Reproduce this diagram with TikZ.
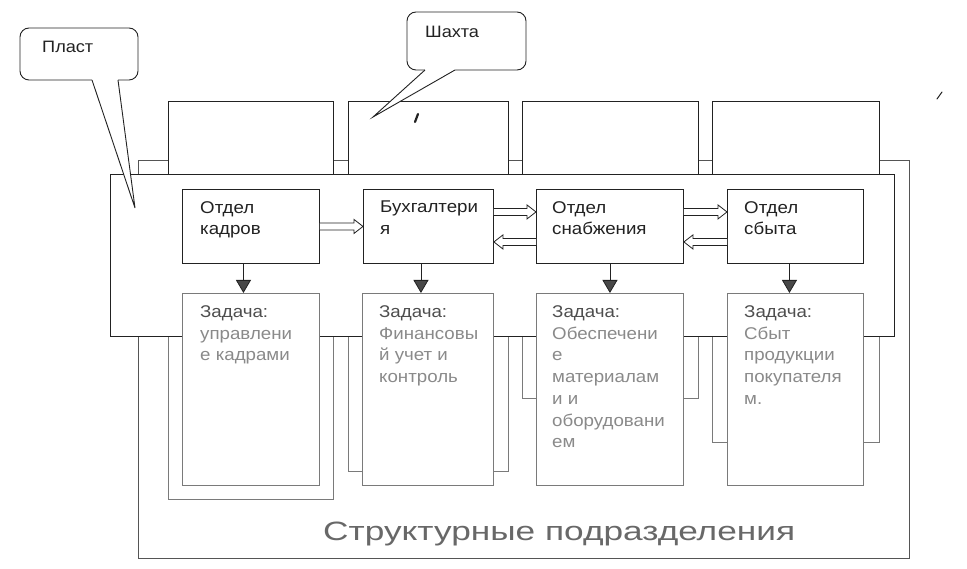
\documentclass[tikz,border=0pt]{standalone}
\usepackage{fontspec}
\setmainfont{Liberation Sans}[FakeStretch=1.1]
\usepackage{graphicx}
\usetikzlibrary{arrows.meta,calc}
\definecolor{ink}{HTML}{222222}
\definecolor{outerc}{HTML}{555555}
\definecolor{lite}{HTML}{7A7A7A}
\definecolor{tasktxt}{HTML}{8A8A8A}
\definecolor{tasklbl}{HTML}{4E4E4E}
\definecolor{bigtxt}{HTML}{686868}
\definecolor{tipgray}{HTML}{484848}
\newcommand\rarr[2]{\draw[blk] ([yshift=3.5pt]#1) -- ([shift={(-9pt,3.5pt)}]#2) -- ([shift={(-9pt,7pt)}]#2) -- (#2) -- ([shift={(-9pt,-7pt)}]#2) -- ([shift={(-9pt,-3.5pt)}]#2) -- ([yshift=-3.5pt]#1);}
\newcommand\larr[2]{\draw[blk] ([yshift=3.5pt]#1) -- ([shift={(9pt,3.5pt)}]#2) -- ([shift={(9pt,7pt)}]#2) -- (#2) -- ([shift={(9pt,-7pt)}]#2) -- ([shift={(9pt,-3.5pt)}]#2) -- ([yshift=-3.5pt]#1);}
\begin{document}
\begin{tikzpicture}[x=1pt,y=-1pt,line join=miter,
  boxline/.style={draw=ink,line width=0.9pt,fill=white},
  liteline/.style={draw=lite,line width=0.8pt,fill=white},
  deptbox/.style={boxline,minimum width=#1,minimum height=74pt,inner sep=0pt,anchor=north west},
  taskbox/.style={draw=lite,line width=0.8pt,fill=white,minimum width=#1,minimum height=192pt,inner sep=0pt,anchor=north west},
  lbl/.style={anchor=north west,inner sep=0pt,align=left,text=ink,font=\fontsize{17}{21.5}\selectfont},
  tasklbl/.style={anchor=north west,inner sep=0pt,align=left,text=tasktxt,font=\fontsize{17}{21.7}\selectfont},
  calltxt/.style={anchor=base west,inner sep=0pt,text=ink,font=\fontsize{16.5}{18}\selectfont},
  blk/.style={draw=ink,line width=0.8pt,fill=white},
  downarr/.style={draw=ink,line width=0.8pt,-{Triangle[length=13pt,width=15pt,fill=tipgray]}}
]
\useasboundingbox (0,0) rectangle (967,569);
% outer frame: Структурные подразделения
\draw[draw=outerc,line width=0.8pt] (138,160) rectangle (909,558);
% columns (Шахта)
\draw[liteline] (168,101) rectangle (333,499);
\draw[liteline] (348,101) rectangle (508,471);
\draw[liteline] (522,101) rectangle (698,398);
\draw[liteline] (712,101) rectangle (879,442);
\draw[boxline] (168,101) rectangle (333,174);
\draw[boxline] (348,101) rectangle (508,174);
\draw[boxline] (522,101) rectangle (698,174);
\draw[boxline] (712,101) rectangle (879,174);
% main frame (Пласт)
\draw[boxline] (110,174) rectangle (894,336);
% departments
\node[deptbox=137pt] (kadry) at (182,189) {};
\node[deptbox=130pt] (buh) at (363,189) {};
\node[deptbox=147pt] (snab) at (536,189) {};
\node[deptbox=136pt] (sbyt) at (727,189) {};
\node[lbl] (tkadry) at ([shift={(18pt,-12pt)}]kadry.north west) {Отдел\\кадров};
\node[lbl] (tbuh) at ([shift={(17pt,-12pt)}]buh.north west) {Бухгалтери\\я};
\node[lbl] (tsnab) at ([shift={(16pt,-12pt)}]snab.north west) {Отдел\\снабжения};
\node[lbl] (tsbyt) at ([shift={(17pt,-12pt)}]sbyt.north west) {Отдел\\сбыта};
% tasks
\node[taskbox=137pt] (task1) at (182,293) {};
\node[taskbox=131pt] (task2) at (362,293) {};
\node[taskbox=147pt] (task3) at (536,293) {};
\node[taskbox=136pt] (task4) at (727,293) {};
\node[tasklbl] (ttask1) at ([shift={(18pt,-12.5pt)}]task1.north west) {{\color{tasklbl}Задача:}\\управлени\\е кадрами};
\node[tasklbl] (ttask2) at ([shift={(17pt,-12.5pt)}]task2.north west) {{\color{tasklbl}Задача:}\\Финансовы\\й учет и\\контроль};
\node[tasklbl] (ttask3) at ([shift={(16pt,-12.5pt)}]task3.north west) {{\color{tasklbl}Задача:}\\Обеспечени\\е\\материалам\\и и\\оборудовани\\ем};
\node[tasklbl] (ttask4) at ([shift={(17pt,-12.5pt)}]task4.north west) {{\color{tasklbl}Задача:}\\Сбыт\\продукции\\покупателя\\м.};
% down arrows
\draw[downarr] ([xshift=-7.5pt]kadry.south) -- ([xshift=-7.5pt]kadry.south |- task1.north);
\draw[downarr] ([xshift=-7.5pt]buh.south) -- ([xshift=-7.5pt]buh.south |- task2.north);
\draw[downarr] (snab.south) -- (snab.south |- task3.north);
\draw[downarr] ([xshift=-6pt]sbyt.south) -- ([xshift=-6pt]sbyt.south |- task4.north);
% block arrows
\coordinate (a0) at (kadry.east);
\coordinate (b0) at (a0 -| buh.west);
\rarr{a0}{b0}
\coordinate (a1) at ([yshift=14.5pt]buh.east);
\coordinate (b1) at (a1 -| snab.west);
\rarr{a1}{b1}
\coordinate (a2) at ([yshift=-15.5pt]snab.west);
\coordinate (b2) at (a2 -| buh.east);
\larr{a2}{b2}
\coordinate (a3) at ([yshift=14.5pt]snab.east);
\coordinate (b3) at (a3 -| sbyt.west);
\rarr{a3}{b3}
\coordinate (a4) at ([yshift=-15.5pt]sbyt.west);
\coordinate (b4) at (a4 -| snab.east);
\larr{a4}{b4}
% title
\node[anchor=base west,inner sep=0pt,text=bigtxt,font=\fontsize{26.5}{28}\selectfont] (title) at (323,540) {\resizebox{472pt}{\height}{Структурные подразделения}};
% callout Пласт
\draw[boxline,rounded corners=9pt] (20,28) rectangle (138,80);
\fill[white] (92,78) -- (92,80) -- (135,208) -- (118,80) -- (118,78) -- cycle;
\draw[draw=ink,line width=0.9pt] (92,80) -- (135,208) -- (118,80);
\node[calltxt] (tplast) at (42,53) {Пласт};
% callout Шахта
\draw[boxline,rounded corners=9pt] (407,12) rectangle (526,70);
\fill[white] (425,68) -- (425,70) -- (373,117) -- (455,70) -- (455,68) -- cycle;
\draw[draw=ink,line width=0.9pt] (425,70) -- (373,117) -- (455,70);
\node[calltxt] (tshahta) at (425,38) {Шахта};
% specks
\draw[draw=ink,line width=2.2pt,line cap=round] (415,122) -- (418,114);
\draw[draw=ink,line width=1pt,line cap=round] (937,99) -- (942,92);
\end{tikzpicture}
\end{document}
